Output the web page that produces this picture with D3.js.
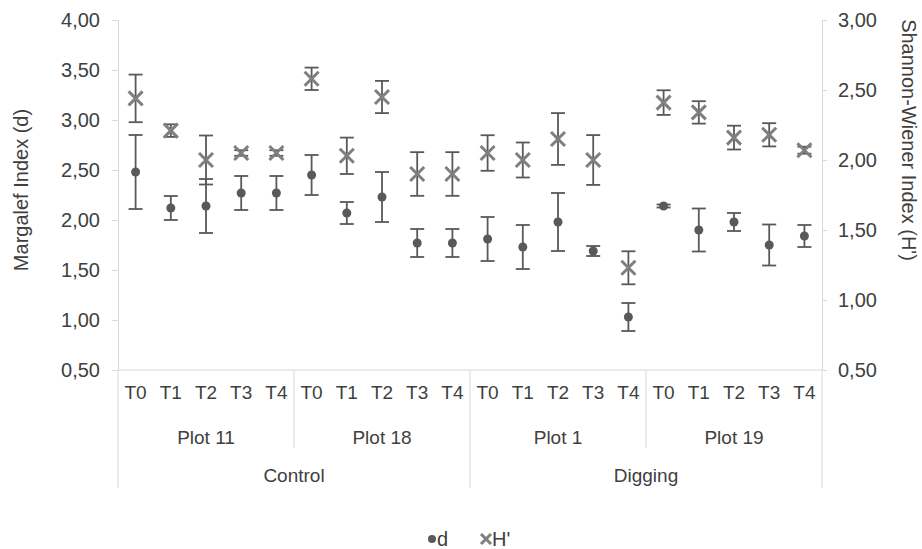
<!DOCTYPE html>
<html>
<head>
<meta charset="utf-8">
<script src="https://cdn.jsdelivr.net/npm/d3@7"></script>
<style>
  body { margin: 0; background: #fff; }
  text { font-family: "Liberation Sans", Arial, sans-serif; fill: #404040; }
</style>
</head>
<body>
<div id="chart"></div>
<script>
// category levels
const periods = ["T0", "T1", "T2", "T3", "T4"]
const plots = ["Plot 11", "Plot 18", "Plot 1", "Plot 19"]
const treatments = ["Control", "Digging"]
const plotsPerTreatment = 2

// Margalef index (d), left axis
const dValues = [2.48, 2.12, 2.14, 2.27, 2.27, 2.45, 2.07, 2.23, 1.77, 1.77,
                 1.81, 1.73, 1.98, 1.69, 1.03, 2.14, 1.90, 1.98, 1.75, 1.84]
const dErrors = [0.37, 0.12, 0.27, 0.17, 0.17, 0.20, 0.11, 0.25, 0.14, 0.14,
                 0.22, 0.22, 0.29, 0.05, 0.14, 0.015, 0.215, 0.09, 0.205, 0.11]

// Shannon-Wiener index (H'), right axis
const hValues = [2.44, 2.21, 2.00, 2.05, 2.05, 2.58, 2.03, 2.45, 1.90, 1.90,
                 2.05, 2.00, 2.15, 2.00, 1.23, 2.41, 2.34, 2.16, 2.18, 2.07]
const hErrors = [0.17, 0.045, 0.175, 0.02, 0.02, 0.08, 0.13, 0.115, 0.156, 0.156,
                 0.127, 0.125, 0.185, 0.178, 0.118, 0.088, 0.08, 0.085, 0.083, 0.025]

const leftTicks = [0.5, 1, 1.5, 2, 2.5, 3, 3.5, 4]
const rightTicks = [0.5, 1, 1.5, 2, 2.5, 3]

const fmt = v => d3.format(".2f")(v).replace(".", ",")

var width = 922, height = 549
var margin = {top: 20, right: 100, bottom: 179, left: 118}

var svg = d3.select("#chart").append("svg")
  .attr("width", width)
  .attr("height", height)

var data = []
plots.forEach(function(p, pi) {
  periods.forEach(function(t, ti) {
    var i = pi * periods.length + ti
    data.push({key: p + "|" + t, period: t, plot: p,
               d: dValues[i], dErr: dErrors[i], h: hValues[i], hErr: hErrors[i]})
  })
})

var x = d3.scaleBand()
  .domain(data.map(d => d.key))
  .range([margin.left, width - margin.right])

var yL = d3.scaleLinear().domain([0.5, 4]).range([height - margin.bottom, margin.top])
var yR = d3.scaleLinear().domain([0.5, 3]).range([height - margin.bottom, margin.top])

var axisColor = "#d9d9d9"
var baseY = height - margin.bottom

// left axis
var gL = svg.append("g")
  .attr("transform", "translate(" + margin.left + ",0)")
  .call(d3.axisLeft(yL).tickValues(leftTicks).tickFormat(fmt).tickSizeOuter(0).tickSize(6).tickPadding(12))
gL.select(".domain").attr("stroke", axisColor)
gL.selectAll(".tick line").attr("stroke", axisColor)
gL.selectAll(".tick text").style("font-size", "20px").style("font-family", "Liberation Sans, Arial, sans-serif").attr("fill", "#404040")

// right axis
var gR = svg.append("g")
  .attr("transform", "translate(" + (width - margin.right) + ",0)")
  .call(d3.axisRight(yR).tickValues(rightTicks).tickFormat(fmt).tickSizeOuter(0).tickSize(5).tickPadding(11))
gR.select(".domain").attr("stroke", axisColor)
gR.selectAll(".tick line").attr("stroke", axisColor)
gR.selectAll(".tick text").style("font-size", "20px").style("font-family", "Liberation Sans, Arial, sans-serif").attr("fill", "#404040")

// bottom multi-level category axis
svg.append("line")
  .attr("x1", margin.left).attr("x2", width - margin.right)
  .attr("y1", baseY).attr("y2", baseY)
  .attr("stroke", axisColor)

svg.selectAll(".period-label")
  .data(data)
  .enter()
  .append("text")
    .attr("x", d => x(d.key) + x.bandwidth() / 2)
    .attr("y", baseY + 29)
    .attr("text-anchor", "middle")
    .style("font-size", "19px")
    .text(d => d.period)

var plotWidth = x.step() * periods.length
plots.forEach(function(p, pi) {
  var x0 = margin.left + pi * plotWidth
  svg.append("text")
    .attr("x", x0 + plotWidth / 2)
    .attr("y", baseY + 74)
    .attr("text-anchor", "middle")
    .style("font-size", "19px")
    .text(p)
  if (pi > 0 && pi % plotsPerTreatment != 0) {
    svg.append("line")
      .attr("x1", x0).attr("x2", x0)
      .attr("y1", baseY).attr("y2", baseY + 78)
      .attr("stroke", axisColor)
  }
})

var treatWidth = plotWidth * plotsPerTreatment
treatments.forEach(function(t, ti) {
  var x0 = margin.left + ti * treatWidth
  svg.append("text")
    .attr("x", x0 + treatWidth / 2)
    .attr("y", baseY + 112)
    .attr("text-anchor", "middle")
    .style("font-size", "19px")
    .text(t)
})
d3.range(treatments.length + 1).forEach(function(i) {
  var x0 = margin.left + i * treatWidth
  svg.append("line")
    .attr("x1", x0).attr("x2", x0)
    .attr("y1", baseY).attr("y2", baseY + 118)
    .attr("stroke", axisColor)
})

// axis titles
svg.append("text")
  .attr("transform", "translate(28," + 190 + ") rotate(-90)")
  .attr("text-anchor", "middle")
  .style("font-size", "20px")
  .text("Margalef Index (d)")

svg.append("text")
  .attr("transform", "translate(902," + 140 + ") rotate(90)")
  .attr("text-anchor", "middle")
  .style("font-size", "20px")
  .text("Shannon-Wiener Index (H')")

// error bars
var barColor = "#595959"
var capW = 7
function errorBars(cls, scale, val, err) {
  var g = svg.append("g").attr("class", cls)
  g.selectAll("line.v")
    .data(data).enter().append("line")
      .attr("class", "v")
      .attr("x1", d => x(d.key) + x.bandwidth() / 2)
      .attr("x2", d => x(d.key) + x.bandwidth() / 2)
      .attr("y1", d => scale(d[val] - d[err]))
      .attr("y2", d => scale(d[val] + d[err]))
      .attr("stroke", barColor).attr("stroke-width", 1.8)
  ;[1, -1].forEach(function(sign) {
    g.selectAll("line.c" + sign)
      .data(data).enter().append("line")
        .attr("x1", d => x(d.key) + x.bandwidth() / 2 - capW)
        .attr("x2", d => x(d.key) + x.bandwidth() / 2 + capW)
        .attr("y1", d => scale(d[val] + sign * d[err]))
        .attr("y2", d => scale(d[val] + sign * d[err]))
        .attr("stroke", barColor).attr("stroke-width", 1.8)
  })
}
errorBars("d-err", yL, "d", "dErr")
errorBars("h-err", yR, "h", "hErr")

// d markers
svg.selectAll(".d-dot")
  .data(data)
  .enter()
  .append("circle")
    .attr("cx", d => x(d.key) + x.bandwidth() / 2)
    .attr("cy", d => yL(d.d))
    .attr("r", 4.5)
    .style("fill", "#595959")

// H' markers
var xSize = 7
var hColor = "#7f7f7f"
svg.selectAll(".h-mark")
  .data(data)
  .enter()
  .append("path")
    .attr("d", function(d) {
      var cx = x(d.key) + x.bandwidth() / 2, cy = yR(d.h)
      return "M" + (cx - xSize) + "," + (cy - xSize) + "L" + (cx + xSize) + "," + (cy + xSize) +
             "M" + (cx - xSize) + "," + (cy + xSize) + "L" + (cx + xSize) + "," + (cy - xSize)
    })
    .attr("stroke", hColor)
    .attr("stroke-width", 3)
    .attr("fill", "none")

// legend
var legend = svg.append("g").attr("transform", "translate(0,539)")
legend.append("circle").attr("cx", 432).attr("cy", 0).attr("r", 4).style("fill", "#595959")
legend.append("text").attr("x", 437).attr("y", 7).style("font-size", "20px").text("d")
legend.append("path")
  .attr("d", "M481,-5L491,5M481,5L491,-5")
  .attr("stroke", hColor).attr("stroke-width", 3)
legend.append("text").attr("x", 492).attr("y", 7).style("font-size", "20px").text("H'")
</script>
</body>
</html>
